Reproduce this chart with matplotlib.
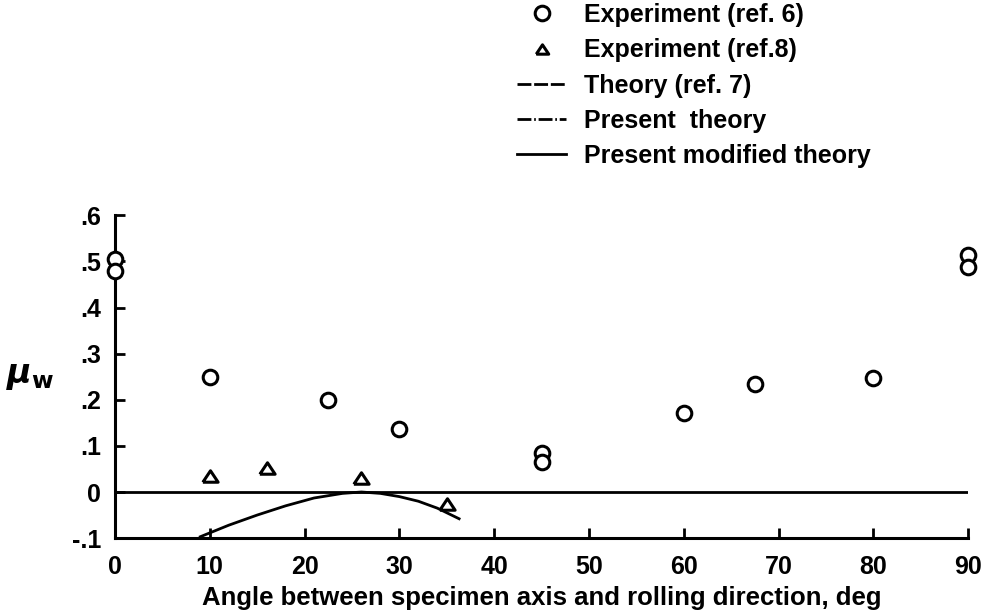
import numpy as np
import matplotlib.pyplot as plt
from matplotlib.lines import Line2D

plt.rcParams['font.family'] = ['Liberation Sans', 'DejaVu Sans']
plt.rcParams['font.weight'] = 'bold'

# Experiment (ref. 6)
ref6_angle = [0, 0, 10, 22.5, 30, 45, 45, 60, 67.5, 80, 90, 90]
ref6_mu = [0.505, 0.48, 0.25, 0.20, 0.137, 0.085, 0.065, 0.172, 0.235, 0.248, 0.513, 0.488]

# Experiment (ref. 8)
ref8_angle = [10, 16, 26, 35]
ref8_mu = [0.035, 0.052, 0.030, -0.026]

# Present modified theory
mod_angle = [9, 12, 15, 18, 21, 24, 26, 28, 30, 32, 34, 36.3]
mod_mu = [-0.097, -0.072, -0.05, -0.03, -0.013, -0.003, 0.0, -0.003, -0.01, -0.02, -0.035, -0.058]

x_ticks = [0, 10, 20, 30, 40, 50, 60, 70, 80, 90]
y_ticks = [-0.1, 0, 0.1, 0.2, 0.3, 0.4, 0.5, 0.6]
y_tick_labels = ['-.1', '0', '.1', '.2', '.3', '.4', '.5', '.6']

legend_labels = ['Experiment (ref. 6)', 'Experiment (ref.8)', 'Theory (ref. 7)',
                 'Present  theory', 'Present modified theory']

# open triangle, a bit wider than tall
tri = [(-1, -0.75), (1, -0.75), (0, 0.75), (-1, -0.75)]

fig = plt.figure(figsize=(9.91, 6.15), dpi=100)
ax = fig.add_axes([0.116, 0.125, 0.861, 0.525])

ax.axhline(0, color='black', lw=2)
ax.plot(mod_angle, mod_mu, color='black', lw=2)
ax.plot(ref6_angle, ref6_mu, 'o', ms=10.5, mfc='white', mec='black', mew=2.2, clip_on=False, zorder=5)
ax.plot(ref8_angle, ref8_mu, marker=tri, ls='none', ms=11, mfc='white', mec='black', mew=2.2,
        clip_on=False, zorder=5)

ax.set_xlim(0, 90)
ax.set_ylim(-0.1, 0.6)
ax.set_xticks(x_ticks)
ax.set_yticks(y_ticks)
ax.set_yticklabels(y_tick_labels)
ax.tick_params(direction='in', length=7, width=2)
ax.tick_params(axis='x', labelsize=18, pad=12)
ax.tick_params(axis='y', labelsize=18, pad=10)
for side in ['top', 'right']:
    ax.spines[side].set_visible(False)
for side in ['left', 'bottom']:
    ax.spines[side].set_linewidth(2.2)

ax.set_xlabel('Angle between specimen axis and rolling direction, deg', fontsize=18.5,
              fontweight='bold', labelpad=5)
ax.set_ylabel(r'$\mu_{\mathbf{w}}$', fontsize=24, rotation=0, labelpad=30, va='center')

handles = [
    Line2D([], [], ls='none', marker='o', ms=10.5, mfc='white', mec='black', mew=2.2),
    Line2D([], [], ls='none', marker=tri, ms=9, mfc='white', mec='black', mew=2.2),
    Line2D([], [], color='black', lw=2, ls=(0, (5, 1))),
    Line2D([], [], color='black', lw=2, ls=(0, (5, 1, 0.6, 1))),
    Line2D([], [], color='black', lw=2),
]
fig.legend(handles, legend_labels, loc='upper left', bbox_to_anchor=(0.522, 0.995),
           frameon=False, prop={'size': 18, 'weight': 'bold'}, handlelength=1.95,
           handletextpad=0.7, labelspacing=0.45, borderaxespad=0, borderpad=0)

fig.savefig('out.png', dpi=100)
